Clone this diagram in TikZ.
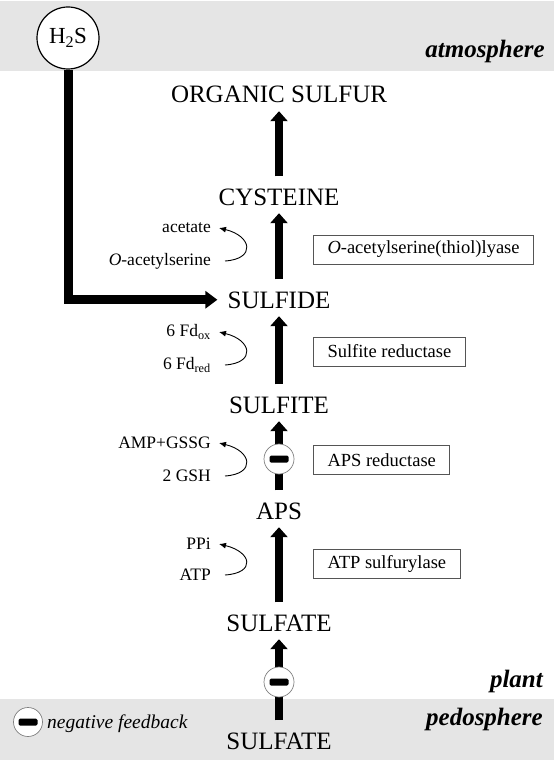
\documentclass[tikz,border=0pt]{standalone}
\usepackage{fontspec}
\setmainfont{Liberation Serif}
\usepackage{tikz}
\usetikzlibrary{arrows.meta}

\definecolor{bandgray}{HTML}{E5E5E5}
\definecolor{boxgray}{HTML}{555555}

\begin{document}
\begin{tikzpicture}[x=1pt,y=-1pt]
  \tikzstyle{compound}=[inner sep=0pt, anchor=base, text height=16.5pt,
    text depth=0pt, font=\fontsize{25}{29}\selectfont]
  \tikzstyle{cofactor}=[inner sep=0pt, anchor=east,
    font=\fontsize{17.5}{20}\selectfont]
  \tikzstyle{enzyme}=[draw=boxgray, line width=1pt, anchor=west,
    inner xsep=14pt, minimum height=29pt, font=\fontsize{18.5}{21}\selectfont]
  \tikzstyle{sphere}=[anchor=base east, inner sep=0pt,
    font=\fontsize{25}{29}\selectfont\bfseries\itshape]
  \tikzstyle{flux}=[line width=8pt, -{Triangle[length=10pt,width=17pt]},
    shorten >=8pt, shorten <=12pt]
  \tikzstyle{turnover}=[line width=0.9pt, -{Latex[length=7pt,width=6pt]}]
  \tikzstyle{negfb}=[circle, draw=gray, fill=white, line width=0.7pt,
    minimum size=30pt, inner sep=0pt,
    path picture={\fill[black, rounded corners=1.5pt]
      ([xshift=-9.5pt,yshift=-3.5pt]path picture bounding box.center) rectangle
      ([xshift=9.5pt,yshift=3.5pt]path picture bounding box.center);}]

  \useasboundingbox (0,0) rectangle (554,762);
  \fill[bandgray] (0,1) rectangle (554,71);
  \fill[bandgray] (0,699) rectangle (554,760);

  \node[sphere] (atmo) at (545,58) {atmosphere};
  \node[sphere] (plant) at (543,687) {plant};
  \node[sphere] (pedo) at (543,725) {pedosphere};

  \node[compound] (orgs) at (279,103) {ORGANIC SULFUR};
  \node[compound] (cys) at (279,205) {CYSTEINE};
  \node[compound] (sulfide) at (279,308) {SULFIDE};
  \node[compound] (sulfite) at (279,413) {SULFITE};
  \node[compound] (aps) at (279,519) {APS};
  \node[compound] (sulfate) at (279,631) {SULFATE};
  \node[compound] (soilsulfate) at (279,749) {SULFATE};

  \draw[flux] (cys.north) -- (orgs.south);
  \draw[flux] (sulfide.north) -- (cys.south);
  \draw[flux] (sulfite.north) -- (sulfide.south);
  \draw[flux] (aps.north) -- (sulfite.south);
  \draw[flux] (sulfate.north) -- (aps.south);
  \draw[flux] (soilsulfate.north) -- (sulfate.south);

  \node[negfb] (fbapr) at (279,459) {};
  \node[negfb] (fbupt) at (279,682) {};

  \node[circle, draw, fill=white, line width=1.2pt, minimum size=62pt,
    inner sep=0pt, font=\fontsize{23}{27}\selectfont] (h2s) at (68,38)
    {H\textsubscript{2}S};
  \draw[line width=9pt, -{Triangle[length=12pt,width=17pt]}, shorten >=10pt]
    (h2s.south) |- (sulfide.west);

  \node[cofactor] (acetate) at (211,228) {acetate};
  \node[cofactor] (oas) at (211,261) {\textit{O}-acetylserine};
  \node[cofactor] (fdox) at (211,332) {6 Fd\textsubscript{ox}};
  \node[cofactor] (fdred) at (211,365) {6 Fd\textsubscript{red}};
  \node[cofactor] (gssg) at (211,443) {AMP+GSSG};
  \node[cofactor] (gsh) at (211,476) {2 GSH};
  \node[cofactor] (ppi) at (211,544) {PPi};
  \node[cofactor] (atp) at (211,575) {ATP};

  \draw[turnover] ([xshift=14pt]oas.east) .. controls
    ([xshift=45pt,yshift=2pt]oas.east) and ([xshift=41pt,yshift=-8pt]acetate.east)
    .. ([xshift=8pt]acetate.east);
  \draw[turnover] ([xshift=14pt]fdred.east) .. controls
    ([xshift=45pt,yshift=2pt]fdred.east) and ([xshift=41pt,yshift=-8pt]fdox.east)
    .. ([xshift=8pt]fdox.east);
  \draw[turnover] ([xshift=14pt]gsh.east) .. controls
    ([xshift=45pt,yshift=2pt]gsh.east) and ([xshift=41pt,yshift=-8pt]gssg.east)
    .. ([xshift=8pt]gssg.east);
  \draw[turnover] ([xshift=14pt]atp.east) .. controls
    ([xshift=45pt,yshift=2pt]atp.east) and ([xshift=41pt,yshift=-8pt]ppi.east)
    .. ([xshift=8pt]ppi.east);

  \node[enzyme] (oasl) at (313,249.5) {\textit{O}-acetylserine(thiol)lyase};
  \node[enzyme] (sir) at (313,351.5) {Sulfite reductase};
  \node[enzyme] (apr) at (313,460) {APS reductase};
  \node[enzyme] (atps) at (313,563.5) {ATP sulfurylase};

  \node[negfb, minimum size=29pt] (fbkey) at (28,722) {};
  \node[anchor=base west, inner sep=0pt, font=\fontsize{19.5}{22}\selectfont\itshape]
    (fbtext) at (47,728) {negative feedback};
\end{tikzpicture}
\end{document}
